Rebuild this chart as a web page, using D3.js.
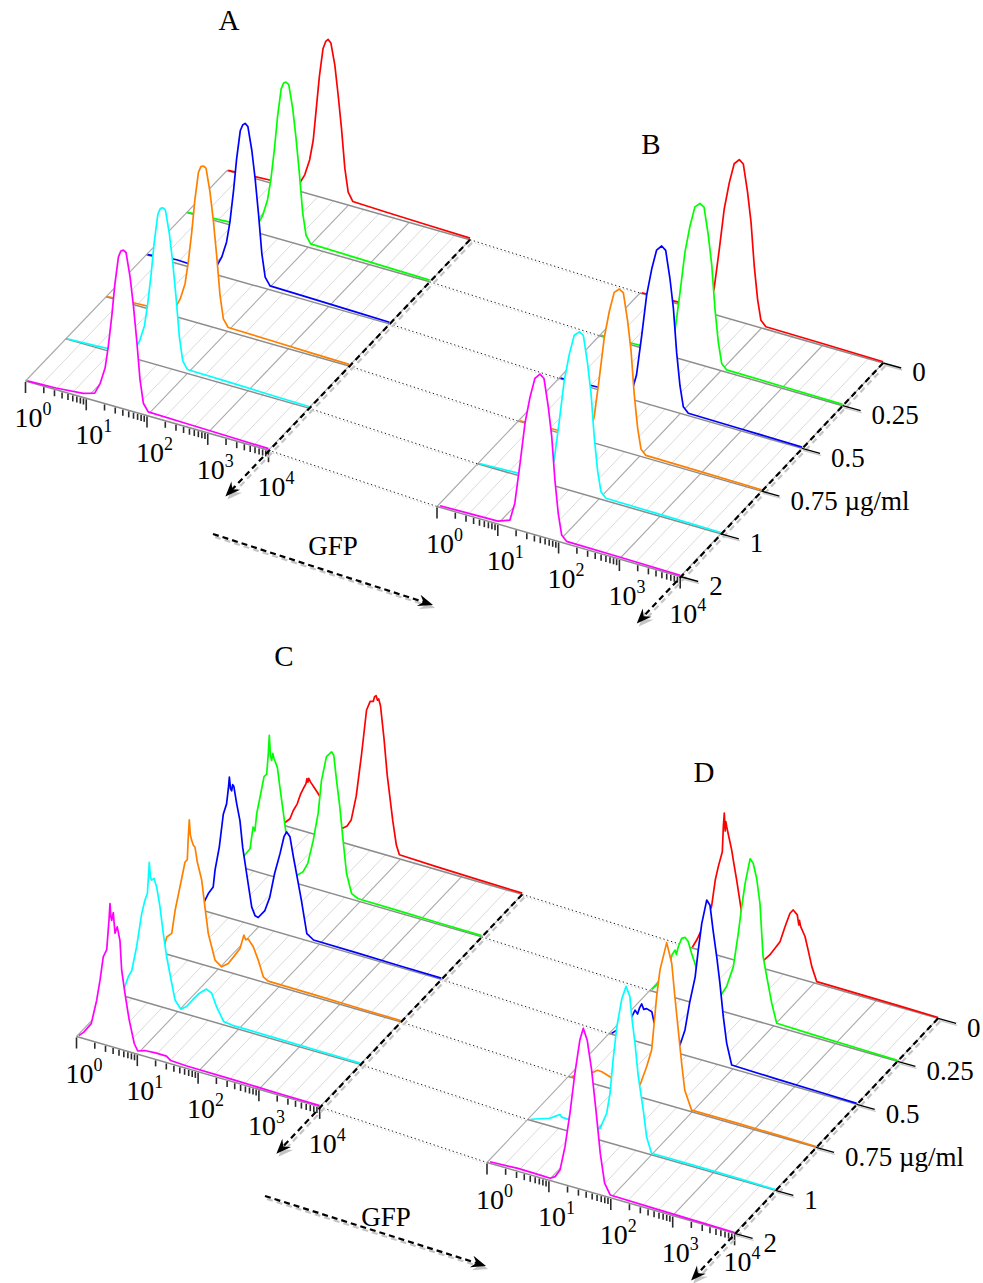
<!DOCTYPE html>
<html>
<head>
<meta charset="utf-8">
<script src="https://cdn.jsdelivr.net/npm/d3@7"></script>
<style>
  body { margin: 0; background: #fff; }
  svg { display: block; }
</style>
</head>
<body>
<div id="chart"></div>
<script>
// doses, back (0) to front (2)
const doses = ['0', '0.25', '0.5', '0.75', '1', '2'];
const doseLabels = ['0', '0.25', '0.5', '0.75 \u00b5g/ml', '1', '2'];
const doseColors = ['#ff0000', '#00ff00', '#0000ff', '#ff8000', '#00ffff', '#ff00ff'];
const decades = [0, 1, 2, 3, 4];
const axisTitle = 'GFP';

// histograms: [log10 GFP, counts as % of panel max], one list per dose
const histA = [
  [[0.02,0.3],[0.7,1.6],[1.0,2.4],[1.19,4.5],[1.28,11],[1.36,21],[1.42,34],[1.47,54],[1.52,74],[1.58,92],[1.625,97],[1.665,98.7],[1.71,97],[1.775,84],[1.83,66],[1.885,46],[1.94,22],[1.995,8],[2.07,3],[2.6,2.3],[3.3,1.6],[4,1]],
  [[0.02,0.4],[0.6,1.5],[1.0,2.5],[1.16,4.5],[1.25,11.5],[1.33,22],[1.385,35],[1.445,55],[1.495,75],[1.555,93],[1.595,97],[1.635,98],[1.68,97],[1.745,83],[1.8,65],[1.855,44],[1.91,20],[1.965,7],[2.04,2.5],[2.7,2],[3.4,1.4],[4,1]],
  [[0.02,0.3],[0.3,1.5],[0.5,2.2],[0.75,1.8],[1.0,2.5],[1.15,4.8],[1.24,11.7],[1.32,22],[1.375,35],[1.435,55],[1.485,75],[1.545,93],[1.585,97],[1.625,98.4],[1.67,97],[1.735,83],[1.79,66],[1.845,45],[1.9,21],[1.955,7],[2.035,2.5],[2.7,2],[3.4,1.5],[4,1]],
  [[0.02,0.4],[0.5,1.2],[0.9,2.0],[1.13,4.7],[1.22,11.7],[1.3,22],[1.35,35],[1.41,55],[1.46,75],[1.52,93],[1.56,97],[1.6,97.8],[1.645,97],[1.71,83],[1.765,66],[1.82,45],[1.875,21],[1.93,7],[2.01,2.5],[2.7,2],[3.4,1.4],[4,1]],
  [[0.02,0.3],[0.5,1.0],[0.9,2.0],[1.12,4.7],[1.215,11.7],[1.295,22],[1.345,35],[1.405,55],[1.455,75],[1.515,93],[1.555,97],[1.595,98],[1.64,97],[1.705,83],[1.76,66],[1.815,45],[1.87,21],[1.925,7],[2.0,2.5],[2.7,2],[3.4,1.4],[4,1]],
  [[0.03,0.4],[0.5,1.0],[0.95,2.5],[1.14,4.7],[1.23,11.7],[1.31,22],[1.36,35],[1.42,55],[1.47,75],[1.53,93],[1.57,97],[1.61,98],[1.655,97],[1.72,83],[1.775,66],[1.83,45],[1.885,21],[1.94,7],[2.02,2.5],[2.7,2],[3.4,1.4],[4,1]]
];

const histB = [
  [[0.03,0.5],[0.6,1.2],[1.0,2],[1.139,4.6],[1.219,15.9],[1.304,41],[1.386,67],[1.469,84],[1.549,96.5],[1.633,100],[1.699,98],[1.769,81.4],[1.826,63.5],[1.879,37],[1.934,17],[1.989,4.6],[2.07,1.5],[3,1.2],[4,0.8]],
  [[0.03,0.5],[0.6,1.2],[1.0,2],[1.161,4.6],[1.241,15.9],[1.326,41],[1.408,67],[1.491,84],[1.571,96.5],[1.655,99.5],[1.721,98],[1.791,81.4],[1.848,63.5],[1.901,37],[1.956,17],[2.011,4.6],[2.09,1.5],[3,1.2],[4,0.8]],
  [[0.03,0.5],[0.6,1.5],[1.0,2],[1.198,4.6],[1.278,15.9],[1.363,41],[1.445,67],[1.528,84],[1.608,96.5],[1.692,100],[1.758,98],[1.828,81.4],[1.885,63.5],[1.938,37],[1.993,17],[2.048,4.6],[2.13,1.5],[3,1.2],[4,0.8]],
  [[0.03,0.5],[0.6,1.3],[1.0,2],[1.169,4.6],[1.249,15.9],[1.334,41],[1.416,67],[1.499,84],[1.579,96.5],[1.663,99.5],[1.729,98],[1.799,81.4],[1.856,63.5],[1.909,37],[1.964,17],[2.019,4.6],[2.1,1.5],[3,1.2],[4,0.8]],
  [[0.03,0.5],[0.6,1.3],[1.0,2],[1.179,4.6],[1.259,15.9],[1.344,41],[1.426,67],[1.509,84],[1.589,96.5],[1.673,99.5],[1.739,98],[1.809,81.4],[1.866,63.5],[1.919,37],[1.974,17],[2.029,4.6],[2.11,1.5],[3,1.2],[4,0.8]],
  [[0.05,1],[0.6,1.5],[1.0,1.8],[1.2,4.6],[1.28,15.9],[1.365,41],[1.447,67],[1.53,84],[1.61,96.5],[1.694,100],[1.76,98],[1.83,81.4],[1.887,63.5],[1.94,37],[1.995,17],[2.05,4.6],[2.13,1.5],[3,1.2],[4,0.8]]
];

const histC = [
  [[0.03,1],[0.1,2],[0.18,5.2],[0.235,10.9],[0.3,15.7],[0.357,22.5],[0.41,27],[0.444,29.7],[0.46,33],[0.475,31],[0.49,33.5],[0.52,31.5],[0.576,29],[0.646,25.7],[0.75,20],[0.85,14],[0.95,10],[1.045,8.7],[1.12,11],[1.187,15.3],[1.27,31],[1.357,57.5],[1.44,86],[1.5,92],[1.55,92.5],[1.57,95.5],[1.596,96.6],[1.62,94],[1.64,95],[1.67,91],[1.727,71.5],[1.78,49.5],[1.87,22.7],[1.93,8],[1.98,2.5],[2.6,1.8],[3.3,1.2],[4,0.8]],
  [[0.03,3],[0.1,8],[0.19,13],[0.24,27],[0.27,25],[0.3,36],[0.354,46.7],[0.42,60],[0.464,62],[0.49,75],[0.507,86.5],[0.525,74],[0.546,71.4],[0.565,76],[0.584,73],[0.64,68],[0.68,56.5],[0.74,40.6],[0.8,24],[0.88,10],[0.96,5],[1.06,8.2],[1.14,14.3],[1.23,29.6],[1.31,47],[1.365,68],[1.447,83.5],[1.5,86],[1.53,87.4],[1.567,85.7],[1.612,70.8],[1.666,55],[1.72,35],[1.777,15],[1.86,3.5],[1.97,1.5],[2.6,1.3],[3.3,1],[4,0.8]],
  [[0.03,2],[0.1,5.3],[0.17,11.4],[0.25,16.3],[0.28,27],[0.35,42],[0.416,63],[0.47,70],[0.5,80],[0.516,87],[0.535,80],[0.554,79],[0.57,83],[0.59,82],[0.636,72],[0.69,62],[0.735,46],[0.8,30.6],[0.883,10.9],[0.94,6],[0.99,5.5],[1.1,11],[1.18,20],[1.26,35.6],[1.35,49],[1.414,60],[1.458,63.4],[1.513,61],[1.57,49],[1.63,37.5],[1.7,24],[1.79,4.3],[1.9,1.5],[2.6,1.3],[3.3,1],[4,0.8]],
  [[0.03,2],[0.12,6],[0.153,10.6],[0.234,13.7],[0.29,28.6],[0.37,44],[0.452,60],[0.49,62],[0.505,75],[0.523,87],[0.54,78],[0.56,75],[0.59,72],[0.617,71],[0.654,62.5],[0.727,52],[0.78,36],[0.836,20],[0.946,5],[1.055,2],[1.164,5.2],[1.274,11.6],[1.357,16.6],[1.42,25.5],[1.45,23],[1.49,24],[1.575,20],[1.657,12.7],[1.74,3.3],[1.82,1.5],[2.6,1.3],[3.3,1],[4,0.8]],
  [[0.03,3],[0.13,6],[0.186,12.7],[0.242,17],[0.324,33],[0.406,54],[0.46,63],[0.5,67.5],[0.531,87],[0.55,78],[0.57,76.5],[0.608,78],[0.653,73],[0.707,61.5],[0.76,46],[0.816,32],[0.9,16.4],[0.954,6.7],[1.05,2],[1.15,5],[1.245,10],[1.35,15],[1.47,19],[1.556,17.5],[1.64,9.7],[1.755,2],[1.9,1.3],[2.6,1.2],[3.3,1],[4,0.8]],
  [[0.04,1],[0.12,4],[0.243,10.6],[0.332,26],[0.387,39],[0.44,54],[0.497,59],[0.535,78],[0.551,88],[0.565,80],[0.579,78],[0.605,83],[0.633,70.6],[0.67,75],[0.715,67],[0.743,49],[0.798,35],[0.865,20],[0.95,6],[1.007,2],[1.12,3.5],[1.3,4],[1.48,4],[1.55,2],[1.8,1.5],[2.6,1.3],[3.3,1],[4,0.8]]
];

const histD = [
  [[0.03,0.5],[0.1,5.7],[0.2,15],[0.34,29],[0.4,46],[0.45,55],[0.514,64.7],[0.53,80],[0.546,89],[0.56,78],[0.57,84],[0.585,81],[0.62,75],[0.665,67.5],[0.7,59.6],[0.746,49.8],[0.82,32],[0.9,15],[1.0,7],[1.1,5],[1.187,5.2],[1.28,9.4],[1.365,14.4],[1.446,19.4],[1.527,29.5],[1.607,38.7],[1.66,41.3],[1.725,39],[1.75,33],[1.76,36],[1.78,32.3],[1.85,27],[1.9,19.3],[1.96,9.6],[2.04,1.2],[2.7,1],[3.4,0.8],[4,0.5]],
  [[0.03,1],[0.11,4.6],[0.2,12],[0.326,20.4],[0.36,26],[0.407,29.4],[0.43,27],[0.46,32],[0.515,37.8],[0.57,39],[0.62,37],[0.677,30],[0.73,24.7],[0.82,14],[0.95,7],[1.05,6],[1.134,8.6],[1.24,16],[1.35,29.5],[1.43,51],[1.485,68],[1.54,83],[1.62,99],[1.67,96.8],[1.727,88],[1.78,73],[1.83,41],[1.89,29],[1.97,13.6],[2.05,2.2],[2.7,1.5],[3.4,1],[4,0.6]],
  [[0.04,0.5],[0.2,6],[0.3,11],[0.365,14.3],[0.42,19],[0.46,17],[0.49,21],[0.527,24],[0.56,21],[0.607,22],[0.69,21],[0.725,15],[0.8,9],[0.95,5],[1.05,4.5],[1.145,5.4],[1.226,15.6],[1.3,33],[1.39,50],[1.44,67],[1.496,84],[1.577,99.6],[1.63,97],[1.68,82],[1.74,66],[1.79,50.6],[1.845,30.6],[1.9,14.7],[1.98,2.2],[2.7,1.5],[3.4,1],[4,0.6]],
  [[0.05,0.5],[0.27,4.9],[0.4,7],[0.47,9],[0.54,8.8],[0.67,7.2],[0.8,5],[0.95,4],[1.05,5],[1.157,7.4],[1.265,20],[1.345,31],[1.426,65],[1.48,82],[1.588,100],[1.67,88],[1.72,68],[1.775,48],[1.83,28],[1.88,12],[1.99,1],[2.7,1],[3.4,0.8],[4,0.5]],
  [[0.05,0.7],[0.36,4.7],[0.45,7],[0.52,8.8],[0.55,7.5],[0.68,7.2],[0.9,5],[1.05,5],[1.17,7.3],[1.276,17.8],[1.33,30.7],[1.38,52],[1.44,73],[1.52,91],[1.588,99.5],[1.65,94],[1.68,82],[1.733,66],[1.787,46],[1.868,26],[1.92,10.4],[2.0,1],[2.7,1],[3.4,0.8],[4,0.5]],
  [[0.05,1],[0.5,1.8],[0.9,1.6],[1.02,1.4],[1.1,3.3],[1.18,8.3],[1.26,23.5],[1.34,45],[1.42,70.6],[1.5,92],[1.556,99.8],[1.62,93],[1.69,75.6],[1.76,51.6],[1.83,25.6],[1.9,8],[1.99,1.7],[2.7,1.2],[3.4,0.8],[4,0.5]]
];

// oblique projection of each panel: origin = 10^0 on the front floor line,
// x = screen step per decade, d = screen step per dose row (towards the back)
const layout = {
  A: { o: [25.5, 381], x: [60.75, 17.3], d: [40.3, -42.1], title: [229, 30], doseText: false, hist: histA },
  B: { o: [437, 506.5], x: [60.8, 17.5], d: [40.6, -42.7], title: [651, 154], doseText: true, hist: histB },
  C: { o: [76.5, 1036.5], x: [60.8, 17.6], d: [40.5, -42.5], title: [284, 666], doseText: false, hist: histC },
  D: { o: [487, 1162.5], x: [61.9, 17.7], d: [40.7, -43], title: [704, 782], doseText: true, hist: histD }
};

const W = 983, H = 1283;
const serif = "'Liberation Serif', 'Times New Roman', serif";

const xs = d3.scaleLinear().domain([0, 4]).range([0, 4]);       // decades along GFP
const zs = d3.scaleLinear().domain([0, 100]).range([0, 162]);   // count height in px
const ds = d3.scaleLinear().domain([0, doses.length - 1]).range([doses.length - 1, 0]); // rows from front
const minorTicks = d3.scaleLog().domain([1, 1e4]).ticks().map(Math.log10);

function proj(L, k, v, c) {
  const t = xs(v), s = ds(k), h = zs(c);
  return [L.o[0] + t * L.x[0] + s * L.d[0], L.o[1] + t * L.x[1] + s * L.d[1] - h];
}

const svg = d3.select('#chart').append('svg').attr('width', W).attr('height', H);
svg.append('rect').attr('width', W).attr('height', H).attr('fill', '#fff');

function seg(g, a, b, stroke, width, dash) {
  return g.append('line')
    .attr('x1', a[0]).attr('y1', a[1]).attr('x2', b[0]).attr('y2', b[1])
    .attr('stroke', stroke).attr('stroke-width', width)
    .attr('stroke-dasharray', dash || null);
}

function arrow(g, a, b) {
  const ang = Math.atan2(b[1] - a[1], b[0] - a[0]);
  const back = [b[0] - 9 * Math.cos(ang), b[1] - 9 * Math.sin(ang)];
  const head = [[0, 0], [-15, -6], [-10, 0], [-15, 6]];
  [[2, 3, '#c4c4c4'], [0, 0, '#000']].forEach(([ox, oy, col]) => {
    seg(g, [a[0] + ox, a[1] + oy], [back[0] + ox, back[1] + oy], col, 2.2, '6,4');
    g.append('path')
      .attr('d', d3.line()(head))
      .attr('transform', `translate(${b[0] + ox},${b[1] + oy}) rotate(${ang * 180 / Math.PI})`)
      .attr('fill', col);
  });
}

// dotted guides joining the left panel rows to the right panel rows
function connect(from, to) {
  doses.forEach((dose, k) => {
    const a = proj(from, k, 4, 0), b = proj(to, k, 0, 0);
    seg(svg, [a[0] + 1, a[1] + 2], [b[0] + 1, b[1] + 2], '#cfcfcf', 1, '1.3,2.7');
    seg(svg, a, b, '#1a1a1a', 1, '1.3,2.7');
  });
}
connect(layout.A, layout.B);
connect(layout.C, layout.D);

function drawPanel(name) {
  const L = layout[name];
  const g = svg.append('g').attr('class', 'panel-' + name);
  const front = doses.length - 1, back = 0;

  // floor grid, every quarter decade
  d3.range(0, 16.5, 1).map(q => q / 4).forEach(v => {
    const dec = Math.abs(v - Math.round(v)) < 1e-6;
    seg(g, proj(L, front, v, 0), proj(L, back, v, 0), dec ? '#a9a9a9' : '#dadada', dec ? 1.1 : 1);
  });

  // histograms from the back row to the front row
  L.hist.forEach((pts, k) => {
    const area = d3.area()
      .x(d => proj(L, k, d[0], d[1])[0])
      .y0(d => proj(L, k, d[0], 0)[1])
      .y1(d => proj(L, k, d[0], d[1])[1]);
    g.append('path').datum(pts).attr('d', area).attr('fill', '#fff');
    seg(g, proj(L, k, 0, 0), proj(L, k, 4, 0), '#8c8c8c', 1.5);
    const line = d3.line()
      .x(d => proj(L, k, d[0], d[1])[0])
      .y(d => proj(L, k, d[0], d[1])[1]);
    g.append('path').datum(pts).attr('d', line)
      .attr('fill', 'none').attr('stroke', doseColors[k])
      .attr('stroke-width', 1.7).attr('stroke-linejoin', 'round');
  });

  // GFP ticks on the front floor line
  minorTicks.forEach(v => {
    const p = proj(L, front, v, 0);
    const major = decades.includes(Math.round(v * 1000) / 1000);
    seg(g, [p[0], p[1] + 1], [p[0], p[1] + (major ? 12 : 7)], '#2a2a2a', 1.6);
  });
  decades.forEach(v => {
    const p = proj(L, front, v, 0);
    const t = g.append('text').attr('x', p[0] - 11).attr('y', Math.min(p[1] + 46, H - 12))
      .attr('font-family', serif).attr('font-size', 28).attr('fill', '#000');
    t.append('tspan').text('10');
    t.append('tspan').attr('dy', -12).attr('font-size', 18).text(v);
  });

  // depth arrow along the 10^4 edge
  const dEnd = proj(L, front, 4, 0);
  arrow(g, proj(L, back, 4, 0), [dEnd[0] - 1.07 * L.d[0], dEnd[1] - 1.1 * L.d[1]]);

  if (L.doseText) {
    doseLabels.forEach((lab, k) => {
      const p = proj(L, k, 4, 0);
      seg(g, [p[0] + 1, p[1] + 2], [p[0] + 19, p[1] + 7], '#c8c8c8', 1.3);
      seg(g, p, [p[0] + 18, p[1] + 5], '#000', 1.4);
      g.append('text').attr('x', p[0] + 29).attr('y', p[1] + 9).attr('dy', '0.35em')
        .attr('font-family', serif).attr('font-size', 27).attr('fill', '#000').text(lab);
    });
  }

  g.append('text').attr('x', L.title[0]).attr('y', L.title[1])
    .attr('text-anchor', 'middle').attr('font-family', serif).attr('font-size', 29)
    .text(name);
}
Object.keys(layout).forEach(drawPanel);

// GFP direction arrows
[[[213, 534], [433, 605], [333, 555]], [[265, 1196], [486, 1266], [386, 1226]]].forEach(([a, b, t]) => {
  arrow(svg, a, b);
  svg.append('text').attr('x', t[0]).attr('y', t[1]).attr('text-anchor', 'middle')
    .attr('font-family', serif).attr('font-size', 27).text(axisTitle);
});
</script>
</body>
</html>
